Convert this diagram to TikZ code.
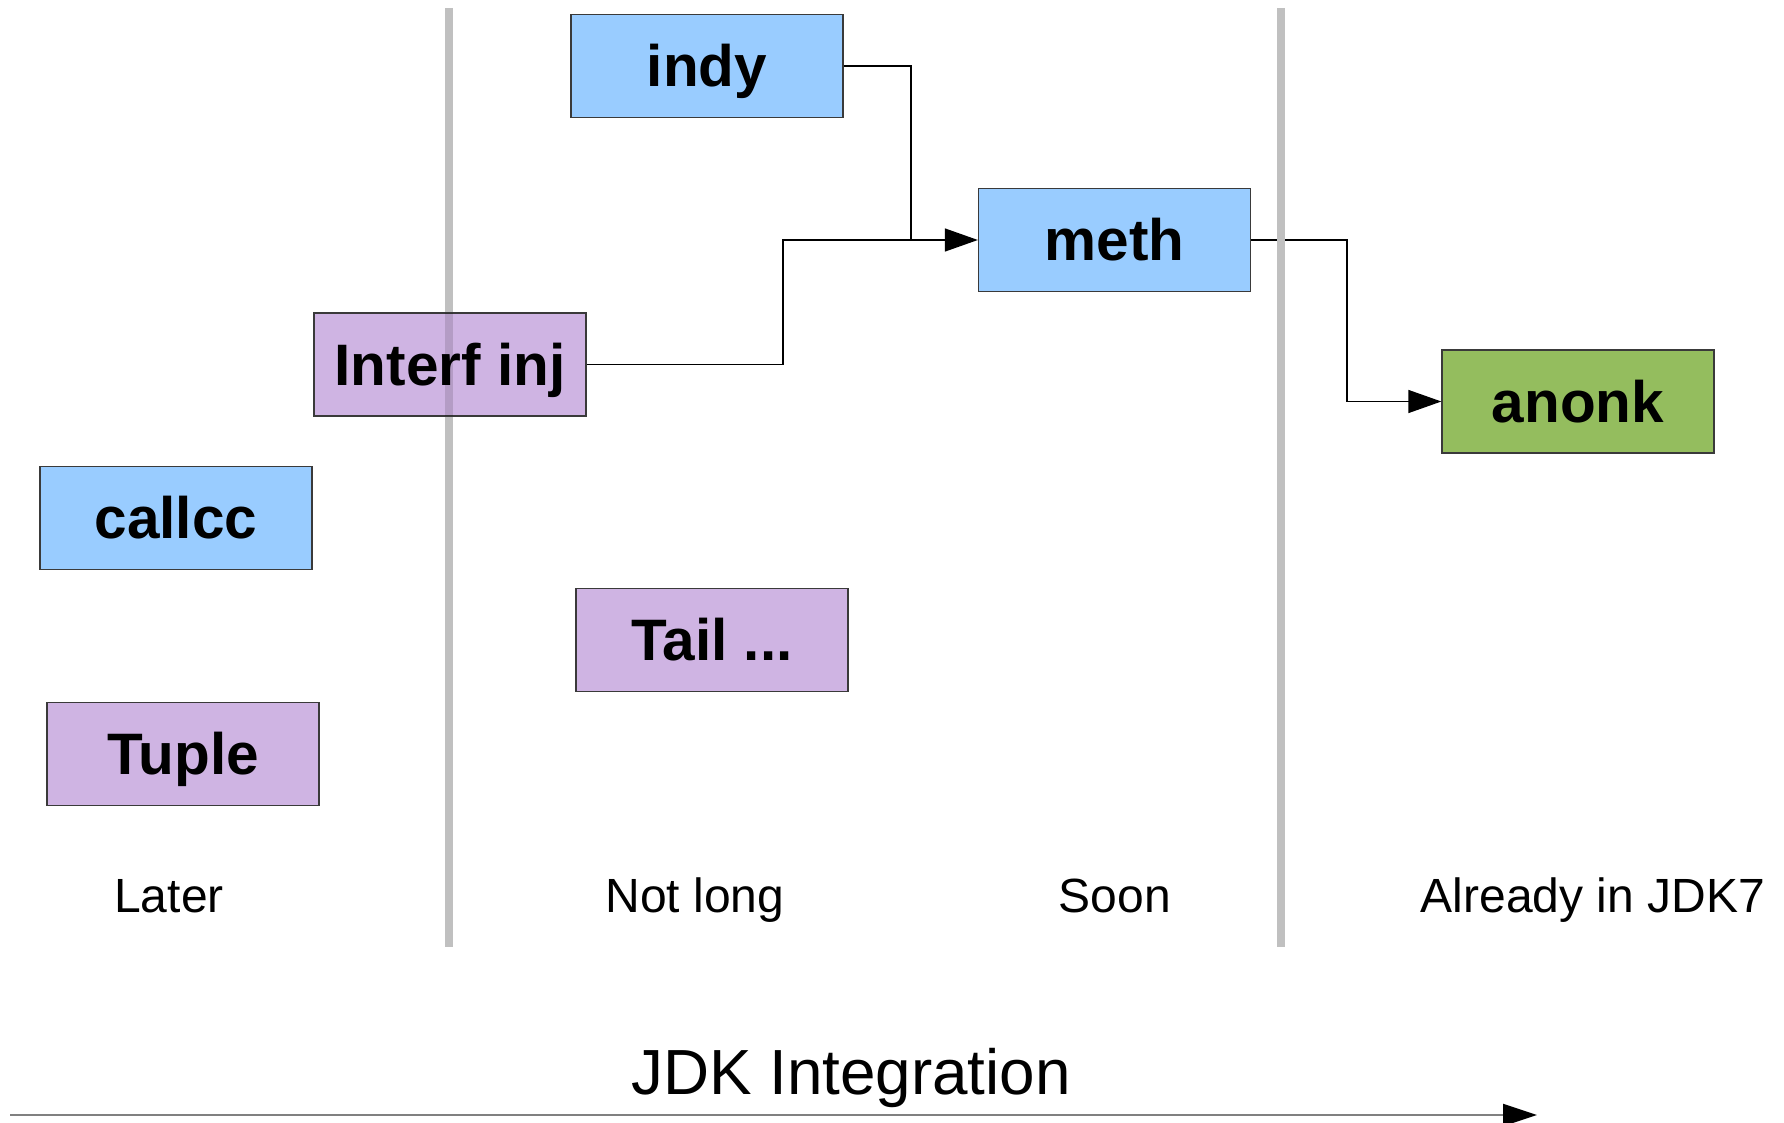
\documentclass[tikz,border=0pt]{standalone}
\usepackage{fontspec}
\setmainfont{Liberation Sans}
\usetikzlibrary{arrows.meta}
\definecolor{boxblue}{HTML}{99CCFF}
\definecolor{boxpurple}{HTML}{CFB4E3}
\definecolor{boxgreen}{HTML}{94BD5E}
\definecolor{boxedge}{HTML}{3A3A3A}
\definecolor{divider}{HTML}{C0C0C0}
\tikzset{
  item/.style={draw=boxedge, line width=1.3pt, minimum width=272pt, minimum height=103pt,
    inner sep=0pt, text height=41pt, text depth=0pt,
    font=\fontsize{58.5}{64}\selectfont\bfseries},
  blue item/.style={item, fill=boxblue},
  purple item/.style={item, fill=boxpurple},
  green item/.style={item, fill=boxgreen},
  conn/.style={draw=black, line width=1.3pt},
  arrowconn/.style={conn, -{Triangle[length=33pt,width=23pt]}},
  divline/.style={draw=divider, line width=8pt},
  colabel/.style={anchor=base, inner sep=0pt, font=\fontsize{48}{54}\selectfont},
}
\begin{document}
\begin{tikzpicture}[x=1pt,y=-1pt]
\useasboundingbox (0,0) rectangle (1784,1123);
\fill[white] (0,0) rectangle (1784,1123);

% junction coordinates
\coordinate (j1) at (783,240);
\coordinate (j2) at (911,240);
\coordinate (k) at (1347,240);

% nodes (placed first for anchors)
\node[blue item] (indy) at (707,66) {indy};
\node[blue item] (meth) at (1114.5,240) {meth};
\node[purple item] (interf) at (450,364.5) {Interf inj};
\node[blue item] (callcc) at (176,518) {callcc};
\node[green item] (anonk) at (1578,401.5) {anonk};
\node[purple item] (tail) at (712,640) {Tail ...};
\node[purple item] (tuple) at (183,754) {Tuple};

% connectors
\draw[conn] (indy.east) -| (j2);
\draw[arrowconn] (interf.east) -| (j1) -- (meth.west);
\draw[arrowconn] (meth.east) -- (k) |- (anonk.west);

% divider lines
\coordinate (d1t) at (449,8);
\coordinate (d1b) at (449,947);
\coordinate (d2t) at (1281,8);
\coordinate (d2b) at (1281,947);
\draw[divline] (d1t) -- (d1b);
\draw[divline] (d2t) -- (d2b);

% redraw overlapping box, with line showing through
\node[purple item] (interf2) at (450,364.5) {};
\begin{scope}
  \clip (interf.south west) rectangle (interf.north east);
  \fill[black, opacity=0.13] (445,313) rectangle (453,416);
\end{scope}
\node[purple item, fill=none, draw=none] at (450,364.5) {Interf inj};
\draw[boxedge, line width=1.3pt] (interf.south west) rectangle (interf.north east);

% column labels
\node[colabel] (later) at (169,912) {Later};
\node[colabel] (notlong) at (695,912) {Not long};
\node[colabel] (soon) at (1115,912) {Soon};
\node[colabel] (already) at (1593,912) {Already in JDK7};

% axis
\node[anchor=base, inner sep=0pt, font=\fontsize{63.8}{70}\selectfont] (axis) at (851,1094.5) {JDK Integration};
\coordinate (a0) at (10,1115);
\coordinate (a1) at (1537,1115);
\draw[draw=gray, line width=2pt, -{Triangle[length=34pt,width=22pt,color=black]}] (a0) -- (a1);
\end{tikzpicture}
\end{document}
